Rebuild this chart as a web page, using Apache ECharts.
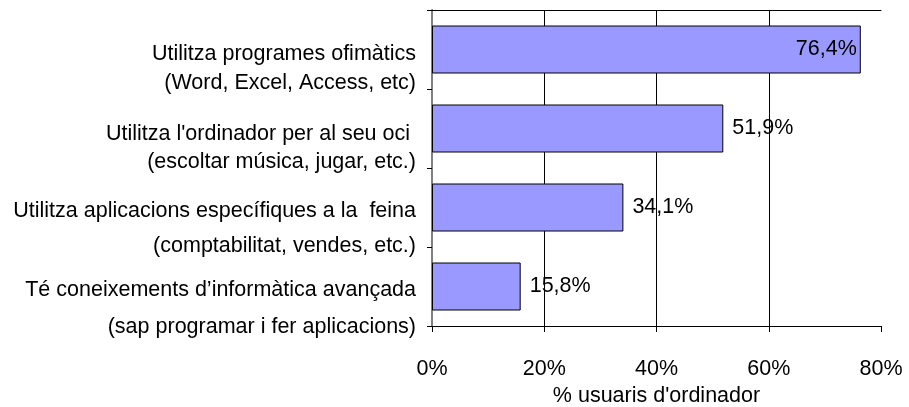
<!DOCTYPE html>
<html>
<head>
<meta charset="utf-8">
<script src="https://cdn.jsdelivr.net/npm/echarts@6/dist/echarts.min.js"></script>
<style>html,body{margin:0;padding:0;background:#fff}#c{width:909px;height:407px}</style>
</head>
<body>
<div id="c"></div>
<script>
const categoryLine1 = [
  "Utilitza programes ofimàtics",
  "Utilitza l'ordinador per al seu oci ",
  "Utilitza aplicacions específiques a la  feina",
  "Té coneixements d’informàtica avançada"
];
const categoryLine2 = [
  "(Word, Excel, Access, etc)",
  "(escoltar música, jugar, etc.)",
  "(comptabilitat, vendes, etc.)",
  "(sap programar i fer aplicacions)"
];
const values = [76.4, 51.9, 34.1, 15.8];
const xTicks = [0, 20, 40, 60, 80];
const xAxisName = "% usuaris d'ordinador";

const FONT = "'Liberation Sans', Arial, sans-serif";
const FS = 21.5;
const categories = categoryLine1.map((a, i) => a + '\n' + categoryLine2[i]);

// label layout: spacer height (shifts block down) and line spacing per category
const spacer = [38, 39, 43, 44];
const lineGap = [29, 28, 35, 37];
const rich = {};
spacer.forEach((h, i) => {
  rich['s' + i] = { fontSize: 2, lineHeight: h, align: 'right' };
  rich['l' + i] = { fontSize: FS, lineHeight: lineGap[i], color: '#000', fontFamily: FONT, align: 'right' };
});

const fmt = v => v.toFixed(1).replace('.', ',') + '%';
const barData = values.map(v => v > 70
  ? { value: v, label: { position: 'insideRight', distance: 4 } }
  : { value: v });

const chart = echarts.init(document.getElementById('c'));
chart.setOption({
  animation: false,
  textStyle: { fontFamily: FONT },
  grid: { left: 432, right: 28, top: 10, bottom: 81, containLabel: false, outerBoundsMode: 'none' },
  xAxis: [{
    type: 'value', min: xTicks[0], max: xTicks[xTicks.length - 1], interval: 20,
    position: 'bottom',
    axisLine: { show: true, lineStyle: { color: '#000', width: 1 } },
    axisTick: { show: true, length: 6, lineStyle: { color: '#000' } },
    axisLabel: { formatter: '{value}%', color: '#000', fontSize: FS, fontFamily: FONT, margin: 32 },
    splitLine: { show: true, showMinLine: false, showMaxLine: false, lineStyle: { color: '#000', width: 1 } },
    name: xAxisName, nameLocation: 'middle', nameGap: 58,
    nameTextStyle: { color: '#000', fontSize: FS, fontFamily: FONT }
  }, {
    type: 'value', min: xTicks[0], max: xTicks[xTicks.length - 1], interval: 20,
    position: 'top',
    axisLine: { show: true, lineStyle: { color: '#000', width: 1 } },
    axisTick: { show: false }, axisLabel: { show: false }, splitLine: { show: false }
  }],
  yAxis: [{
    type: 'category', data: categories, inverse: true,
    axisLine: { show: true, lineStyle: { color: '#000', width: 1 } },
    axisTick: { show: true, length: 5, lineStyle: { color: '#000' } },
    axisLabel: {
      interval: 0, color: '#000', fontSize: FS, fontFamily: FONT, margin: 16, align: 'right',
      formatter: (val, i) => {
        const parts = val.split('\n');
        return '{s' + i + '| }\n{l' + i + '|' + parts[0] + '}\n{l' + i + '|' + parts[1] + '}';
      },
      rich: rich
    },
    splitLine: { show: false }
  }, {
    type: 'category', data: categories, inverse: true, position: 'right',
    axisLine: { show: true, lineStyle: { color: '#808080', width: 2 } },
    axisTick: { show: false }, axisLabel: { show: false }, splitLine: { show: false }
  }],
  series: [{
    type: 'bar', xAxisIndex: 0, yAxisIndex: 0,
    data: barData, barWidth: 48,
    itemStyle: { color: '#9999FF', borderColor: '#000', borderWidth: 1 },
    label: { show: true, position: 'right', distance: 9, formatter: p => fmt(p.value),
      color: '#000', fontSize: FS, fontFamily: FONT }
  }]
});
</script>
</body>
</html>
